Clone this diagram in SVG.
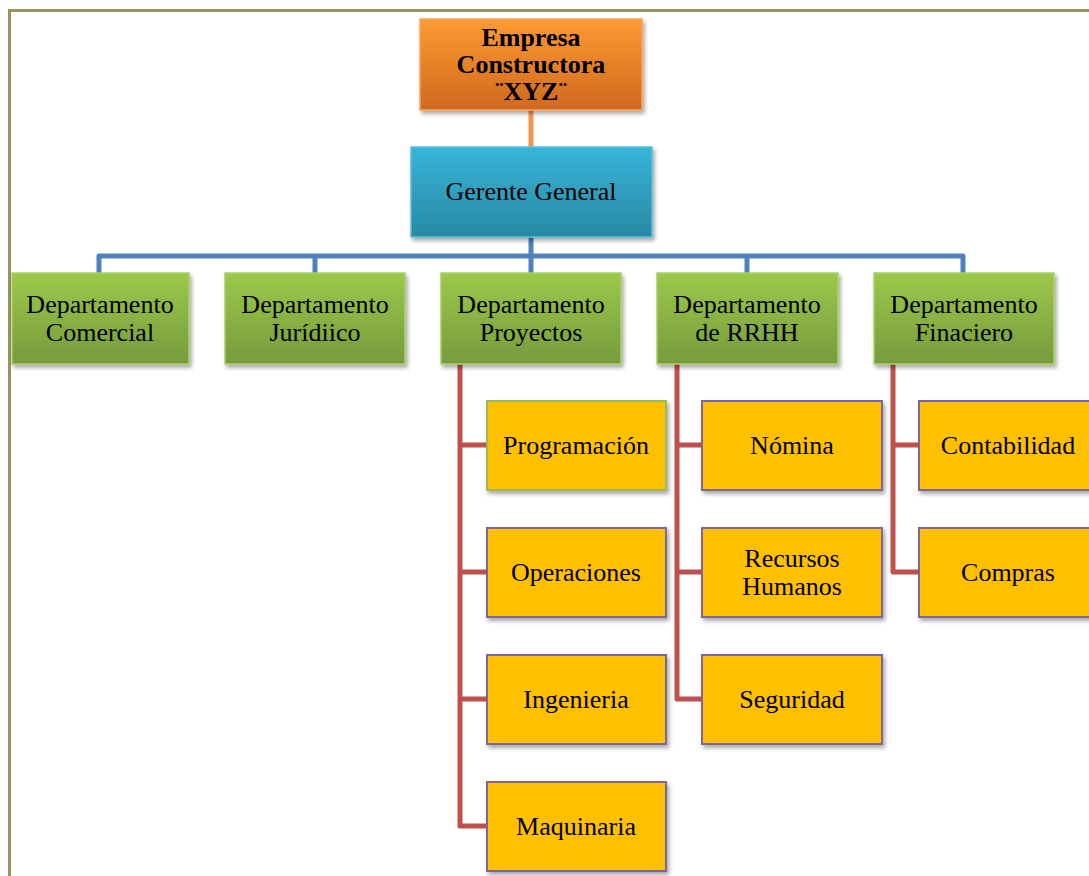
<svg xmlns="http://www.w3.org/2000/svg" width="1089" height="876" viewBox="0 0 1089 876">
<defs>
<linearGradient id="gOrange" x1="0" y1="0" x2="0" y2="1"><stop offset="0" stop-color="#fd9a32"/><stop offset="1" stop-color="#d0691f"/></linearGradient>
<linearGradient id="gBlue" x1="0" y1="0" x2="0" y2="1"><stop offset="0" stop-color="#37b5d8"/><stop offset="1" stop-color="#2989a4"/></linearGradient>
<linearGradient id="gGreen" x1="0" y1="0" x2="0" y2="1"><stop offset="0" stop-color="#9cc94b"/><stop offset="1" stop-color="#779a3c"/></linearGradient>
<filter id="sh" x="-10%" y="-10%" width="125%" height="130%"><feDropShadow dx="2" dy="3" stdDeviation="2" flood-color="#000" flood-opacity="0.35"/></filter>
<style>
text{font-family:"Liberation Serif","Times New Roman",serif;font-size:26px;fill:#000;text-anchor:middle}
.b{font-weight:bold}
.top{fill:url(#gOrange);stroke:#f8a55a;stroke-width:1.5;filter:url(#sh)}
.gg{fill:url(#gBlue);stroke:#58c0dc;stroke-width:1.5;filter:url(#sh)}
.dep{fill:url(#gGreen);stroke:#a9d163;stroke-width:1.5;filter:url(#sh)}
.sub{fill:#ffc000;stroke:#8064a2;stroke-width:2;filter:url(#sh)}
.subg{fill:#ffc000;stroke:#9bbb59;stroke-width:2;filter:url(#sh)}
.cb{fill:none;stroke:#4f81bd;stroke-width:5;stroke-linejoin:round}
.cr{fill:none;stroke:#c0504d;stroke-width:5;stroke-linejoin:round}
.co{fill:none;stroke:#f79646;stroke-width:5}
</style>
</defs>
<rect x="0" y="0" width="1089" height="876" fill="#fff"/>
<path d="M9.5 880 V10.5 H1095" fill="none" stroke="#9b9160" stroke-width="3"/>
<g id="connectors">
<path class="co" d="M531 110 V147"/>
<path class="cb" d="M531 237 V256 M99 273 V256 H963 V273 M315 256 V273 M531 256 V273 M747 256 V273"/>
<path class="cr" d="M460 364 V826 H487 M460 445 H487 M460 572 H487 M460 699 H487"/>
<path class="cr" d="M677 364 V699 H702 M677 445 H702 M677 572 H702"/>
<path class="cr" d="M893 364 V572 H919 M893 445 H919"/>
</g>
<g id="n-empresa"><rect class="top" x="420" y="19" width="222" height="91"/><text class="b" x="531" y="46">Empresa</text><text class="b" x="531" y="73">Constructora</text><text class="b" x="531" y="100">¨XYZ¨</text></g>
<g id="n-gerente"><rect class="gg" x="411" y="147" width="241" height="90"/><text x="531" y="200">Gerente General</text></g>
<g id="n-comercial"><rect class="dep" x="12" y="273" width="177" height="91"/><text x="100" y="313">Departamento</text><text x="100" y="341">Comercial</text></g>
<g id="n-juridico"><rect class="dep" x="225" y="273" width="180" height="91"/><text x="315" y="313">Departamento</text><text x="315" y="341">Jurídiico</text></g>
<g id="n-proyectos"><rect class="dep" x="441" y="273" width="180" height="91"/><text x="531" y="313">Departamento</text><text x="531" y="341">Proyectos</text></g>
<g id="n-rrhh"><rect class="dep" x="657" y="273" width="181" height="91"/><text x="747" y="313">Departamento</text><text x="747" y="341">de RRHH</text></g>
<g id="n-financiero"><rect class="dep" x="874" y="273" width="180" height="91"/><text x="964" y="313">Departamento</text><text x="964" y="341">Finaciero</text></g>
<g id="n-programacion"><rect class="subg" x="487" y="401" width="179" height="89"/><text x="576" y="454">Programación</text></g>
<g id="n-operaciones"><rect class="sub" x="487" y="528" width="179" height="89"/><text x="576" y="581">Operaciones</text></g>
<g id="n-ingenieria"><rect class="sub" x="487" y="655" width="179" height="89"/><text x="576" y="708">Ingenieria</text></g>
<g id="n-maquinaria"><rect class="sub" x="487" y="782" width="179" height="89"/><text x="576" y="835">Maquinaria</text></g>
<g id="n-nomina"><rect class="sub" x="702" y="401" width="180" height="89"/><text x="792" y="454">Nómina</text></g>
<g id="n-recursos"><rect class="sub" x="702" y="528" width="180" height="89"/><text x="792" y="567">Recursos</text><text x="792" y="595">Humanos</text></g>
<g id="n-seguridad"><rect class="sub" x="702" y="655" width="180" height="89"/><text x="792" y="708">Seguridad</text></g>
<g id="n-contabilidad"><rect class="sub" x="919" y="401" width="180" height="89"/><text x="1008" y="454">Contabilidad</text></g>
<g id="n-compras"><rect class="sub" x="919" y="528" width="180" height="89"/><text x="1008" y="581">Compras</text></g>
</svg>
